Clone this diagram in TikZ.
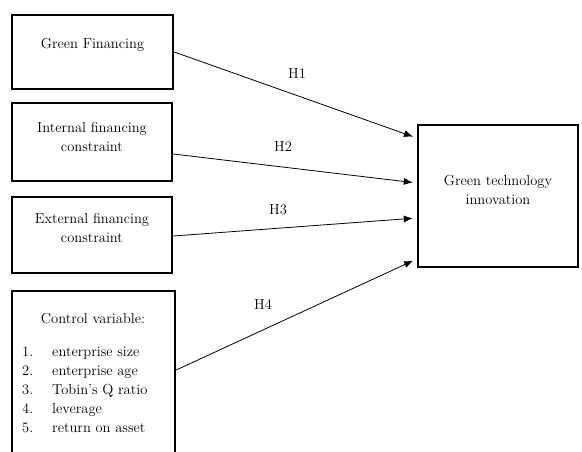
\documentclass[tikz,border=0pt]{standalone}
\usetikzlibrary{arrows.meta,calc}

\tikzset{
  varbox/.style={draw,line width=2.4pt,inner sep=0pt},
  vartext/.style={align=center,inner sep=0pt,font=\fontsize{14.5}{19}\selectfont},
  hyp/.style={-{Latex[length=9pt,width=7pt]},line width=0.8pt,shorten >=4pt},
  hlabel/.style={font=\fontsize{14.5}{19}\selectfont}
}

\begin{document}
\begin{tikzpicture}[x=1pt,y=-1pt]
  \useasboundingbox (0,0) rectangle (582,452);
  \clip (0,0) rectangle (582,452);
  % left hand boxes
  \node[varbox,minimum width=161pt,minimum height=74pt] (gf) at (92.5,52) {};
  \node[vartext] (gftext) at ([yshift=7pt]gf.center) {Green Financing};
  \node[varbox,minimum width=160pt,minimum height=78pt] (ifc) at (92,142) {};
  \node[vartext] (ifctext) at ([yshift=5.5pt]ifc.center) {Internal financing\\constraint};
  \node[varbox,minimum width=160pt,minimum height=76pt] (efc) at (92,235) {};
  \node[vartext] (efctext) at ([yshift=7pt]efc.center) {External financing\\constraint};
  \node[varbox,minimum width=163pt,minimum height=180pt] (ctrl) at (93.5,381) {};
  \node[hlabel] (ctrltitle) at (93,319) {Control variable:};
  \node[hlabel,anchor=north west,inner sep=0pt] (ctrllist) at (22,343) {%
    \begin{tabular}{@{}l@{\hspace{19pt}}l@{}}
      1. & enterprise size\\
      2. & enterprise age\\
      3. & Tobin's Q ratio\\
      4. & leverage\\
      5. & return on asset
    \end{tabular}};
  % outcome
  \node[varbox,minimum width=160pt,minimum height=142pt] (gti) at (498,196) {};
  \node[vartext] (gtitext) at ([yshift=6.5pt]gti.center) {Green technology\\innovation};

  % hypotheses
  \draw[hyp] (gf.east) -- ([yshift=58pt]gti.west);
  \draw[hyp] ([yshift=-12pt]ifc.east) -- ([yshift=13pt]gti.west);
  \draw[hyp] ([yshift=-1pt]efc.east) -- ([yshift=-22pt]gti.west);
  \draw[hyp] ([yshift=11pt]ctrl.east) -- ([yshift=-63pt]gti.west);
  \node[hlabel] (h1) at (297,74) {H1};
  \node[hlabel] (h2) at (283,147) {H2};
  \node[hlabel] (h3) at (278,210) {H3};
  \node[hlabel] (h4) at (263,305) {H4};
\end{tikzpicture}
\end{document}
